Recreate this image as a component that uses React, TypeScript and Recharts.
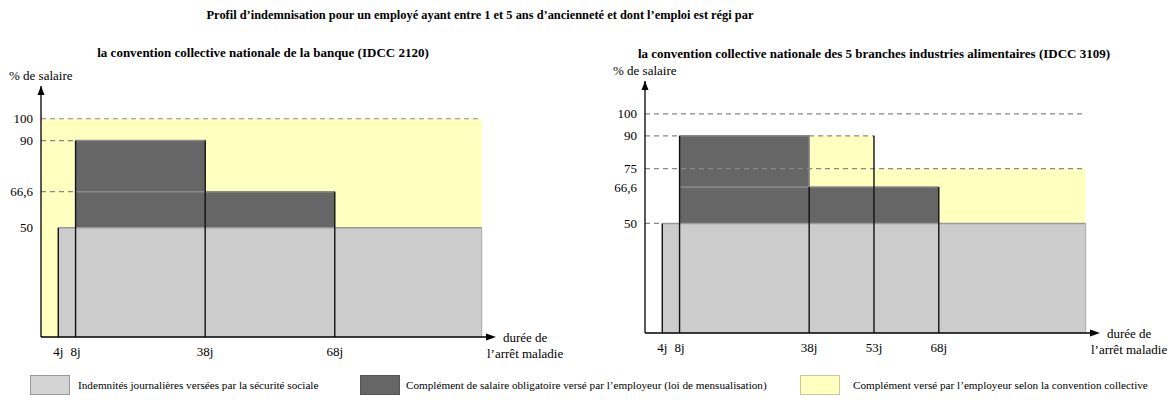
import React from "react";
import { ComposedChart, Area, XAxis, YAxis, ReferenceLine } from "recharts";

const FONT = '"Liberation Serif", "Times New Roman", serif';

const LIGHT = "#cccccc";
const DARK = "#666666";
const YELLOW = "#ffffc0";

const END_DAY = 102;
const X_MAX = 103;
const Y_MAX = 115;

// banque (IDCC 2120)
const bankTicksX = [4, 8, 38, 68];
const bankTicksY = [50, 66.6, 90, 100];
const bankSecu = [
  { day: 4, pct: 50 },
  { day: END_DAY, pct: 50 },
];
const bankLegal = [
  { day: 8, pct: 90 },
  { day: 38, pct: 66.6 },
  { day: 68, pct: 66.6 },
];
const bankConv = [
  { day: 0, pct: 100 },
  { day: END_DAY, pct: 100 },
];
const bankEdges = [
  { day: 4, top: 50 },
  { day: 8, top: 90 },
  { day: 38, top: 90 },
  { day: 68, top: 66.6 },
];
const bankGuides = [
  { pct: 100, from: 0, to: END_DAY },
  { pct: 90, from: 0, to: 8 },
  { pct: 66.6, from: 0, to: 8 },
];

// 5 branches industries alimentaires (IDCC 3109)
const foodTicksX = [4, 8, 38, 53, 68];
const foodTicksY = [50, 66.6, 75, 90, 100];
const foodSecu = [
  { day: 4, pct: 50 },
  { day: END_DAY, pct: 50 },
];
const foodLegal = [
  { day: 8, pct: 90 },
  { day: 38, pct: 66.6 },
  { day: 68, pct: 66.6 },
];
const foodConv = [
  { day: 38, pct: 90 },
  { day: 53, pct: 75 },
  { day: END_DAY, pct: 75 },
];
const foodEdges = [
  { day: 4, top: 50 },
  { day: 8, top: 90 },
  { day: 38, top: 66.6 },
  { day: 53, top: 90 },
  { day: 68, top: 66.6 },
];
const foodGuides = [
  { pct: 100, from: 0, to: END_DAY },
  { pct: 90, from: 0, to: 8 },
  { pct: 90, from: 38, to: 53 },
  { pct: 75, from: 0, to: END_DAY },
  { pct: 50, from: 0, to: 4 },
];

const legendItems = [
  { name: "Indemnités journalières versées par la sécurité sociale", color: "#d4d4d4", border: "#9a9a9a", x: 30, textX: 78 },
  { name: "Complément de salaire obligatoire versé par l’employeur (loi de mensualisation)", color: DARK, border: "#555", x: 360, textX: 406 },
  { name: "Complément versé par l’employeur selon la convention collective", color: YELLOW, border: "#c8c8a0", x: 800, textX: 853 },
];

function YArrowLabel(props: any) {
  const vb = props.viewBox || {};
  const ax = vb.x + vb.width;
  const top = vb.y;
  return (
    <g>
      <polygon points={`${ax},${top} ${ax - 3.5},${top + 9} ${ax + 3.5},${top + 9}`} fill="#000" />
      <text x={ax - 32} y={top - 6} fontSize={13} fontFamily={FONT} fill="#000">
        % de salaire
      </text>
    </g>
  );
}

function XArrowLabel(props: any) {
  const vb = props.viewBox || {};
  const ex = vb.x + vb.width;
  const y = vb.y;
  return (
    <g>
      <polygon points={`${ex + 10},${y} ${ex},${y - 3.5} ${ex},${y + 3.5}`} fill="#000" />
      <text x={ex + 17} y={y + 4.5} fontSize={13} fontFamily={FONT} fill="#000">
        durée de
      </text>
      <text x={ex + 1} y={y + 20.5} fontSize={13} fontFamily={FONT} fill="#000">
        l’arrêt maladie
      </text>
    </g>
  );
}

function IndemChart(props: any) {
  const { width, height, margin, secu, legal, conv, edges, guides, ticksX, ticksY } = props;
  const tickStyle = { fontSize: 13, fill: "#000", fontFamily: FONT };
  return (
    <ComposedChart width={width} height={height} margin={margin} style={{ overflow: "visible" }}>
      <XAxis
        type="number"
        dataKey="day"
        domain={[0, X_MAX]}
        ticks={ticksX}
        interval={0}
        tickFormatter={(v: number) => `${v}j`}
        axisLine={{ stroke: "#000", strokeWidth: 1.3 }}
        tickLine={false}
        tick={tickStyle}
        tickMargin={4}
        height={30}
        label={{ content: XArrowLabel }}
      />
      <YAxis
        type="number"
        domain={[0, Y_MAX]}
        ticks={ticksY}
        interval={0}
        tickFormatter={(v: number) => String(v).replace(".", ",")}
        width={41}
        axisLine={{ stroke: "#000", strokeWidth: 1.3 }}
        tickLine={false}
        tick={tickStyle}
        label={{ content: YArrowLabel }}
      />
      <Area
        data={conv}
        dataKey="pct"
        type="stepAfter"
        fill={YELLOW}
        fillOpacity={1}
        stroke="none"
        isAnimationActive={false}
      />
      <Area
        data={legal}
        dataKey="pct"
        type="stepAfter"
        fill={DARK}
        fillOpacity={1}
        stroke="#8a8a8a"
        strokeWidth={1.5}
        isAnimationActive={false}
      />
      <Area
        data={secu}
        dataKey="pct"
        type="stepAfter"
        fill={LIGHT}
        fillOpacity={1}
        stroke="#9a9a9a"
        strokeWidth={1.5}
        isAnimationActive={false}
      />
      <ReferenceLine
        segment={[
          { x: 8, y: 66.6 },
          { x: 38, y: 66.6 },
        ]}
        stroke="#8c8c8c"
        strokeWidth={1.5}
      />
      <ReferenceLine
        segment={[
          { x: END_DAY, y: 0 },
          { x: END_DAY, y: 50 },
        ]}
        stroke="#aaaaaa"
        strokeWidth={1}
      />
      {guides.map((g: any, i: number) => (
        <ReferenceLine
          key={`g${i}`}
          segment={[
            { x: g.from, y: g.pct },
            { x: g.to, y: g.pct },
          ]}
          stroke="#888"
          strokeWidth={1.2}
          strokeDasharray="5 4"
        />
      ))}
      {edges.map((e: any, i: number) => (
        <ReferenceLine
          key={`e${i}`}
          segment={[
            { x: e.day, y: 0 },
            { x: e.day, y: e.top },
          ]}
          stroke="#111"
          strokeWidth={1.4}
        />
      ))}
    </ComposedChart>
  );
}

export default function App() {
  const titleStyle: React.CSSProperties = {
    position: "absolute",
    fontFamily: FONT,
    fontWeight: "bold",
    lineHeight: "14px",
    textAlign: "center",
    whiteSpace: "nowrap",
    color: "#000",
  };
  return (
    <div style={{ position: "absolute", left: 0, top: 0, width: 1168, height: 400, background: "#fff" }}>
      <div style={{ ...titleStyle, fontSize: 12.4, left: 175, width: 610, top: 8 }}>
        Profil d’indemnisation pour un employé ayant entre 1 et 5 ans d’ancienneté et dont l’emploi est régi par
      </div>
      <div style={{ ...titleStyle, fontSize: 13, left: 13, width: 500, top: 46 }}>
        la convention collective nationale de la banque (IDCC 2120)
      </div>
      <div style={{ ...titleStyle, fontSize: 13, left: 574, width: 600, top: 47 }}>
        la convention collective nationale des 5 branches industries alimentaires (IDCC 3109)
      </div>
      <div style={{ position: "absolute", left: 0, top: 60 }}>
        <IndemChart
          width={580}
          height={320}
          margin={{ top: 26, right: 94, bottom: 13, left: 0 }}
          secu={bankSecu}
          legal={bankLegal}
          conv={bankConv}
          edges={bankEdges}
          guides={bankGuides}
          ticksX={bankTicksX}
          ticksY={bankTicksY}
        />
      </div>
      <div style={{ position: "absolute", left: 590, top: 40 }}>
        <IndemChart
          width={578}
          height={330}
          margin={{ top: 41, right: 78, bottom: 7, left: 14 }}
          secu={foodSecu}
          legal={foodLegal}
          conv={foodConv}
          edges={foodEdges}
          guides={foodGuides}
          ticksX={foodTicksX}
          ticksY={foodTicksY}
        />
      </div>
      {legendItems.map((it) => (
        <React.Fragment key={it.name}>
          <div
            style={{
              position: "absolute",
              left: it.x,
              top: 375,
              width: 40,
              height: 20,
              boxSizing: "border-box",
              background: it.color,
              border: `1px solid ${it.border}`,
            }}
          />
          <div
            style={{
              position: "absolute",
              left: it.textX,
              top: 378,
              fontFamily: FONT,
              fontSize: 11.2,
              lineHeight: "14px",
              whiteSpace: "nowrap",
              color: "#000",
            }}
          >
            {it.name}
          </div>
        </React.Fragment>
      ))}
    </div>
  );
}
